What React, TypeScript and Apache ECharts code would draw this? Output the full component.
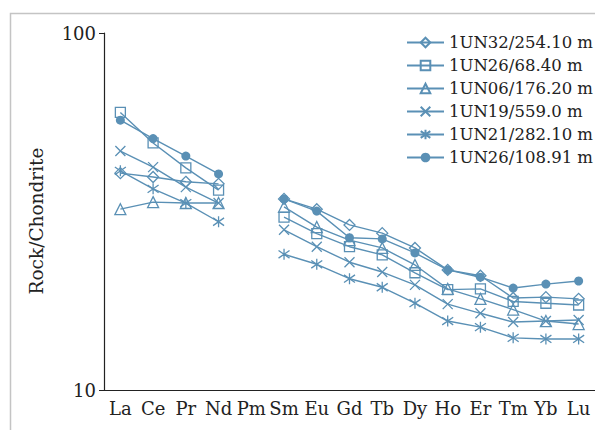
import React, { useEffect, useRef } from "react";
import * as echarts from "echarts";

const categories = ["La", "Ce", "Pr", "Nd", "Pm", "Sm", "Eu", "Gd", "Tb", "Dy", "Ho", "Er", "Tm", "Yb", "Lu"];
const seriesNames = [
  "1UN32/254.10 m",
  "1UN26/68.40 m",
  "1UN06/176.20 m",
  "1UN19/559.0 m",
  "1UN21/282.10 m",
  "1UN26/108.91 m",
];
const un32_254 = [40.5, 39.5, 38.3, 37.8, null, 34.3, 32.1, 29.0, 27.5, 25.0, 21.7, 20.9, 18.1, 18.2, 18.0];
const un26_68 = [59.9, 49.2, 41.9, 36.3, null, 30.5, 27.4, 25.2, 23.9, 21.3, 19.1, 19.2, 17.7, 17.5, 17.3];
const un06_176 = [32.1, 33.6, 33.4, 33.4, null, 32.6, 28.6, 26.3, 25.0, 22.4, 19.2, 18.0, 16.8, 15.6, 15.3];
const un19_559 = [46.7, 42.1, 37.0, 33.4, null, 28.1, 25.2, 22.8, 21.4, 19.7, 17.4, 16.4, 15.5, 15.6, 15.7];
const un21_282 = [41.1, 36.6, 33.4, 29.6, null, 24.0, 22.5, 20.5, 19.4, 17.5, 15.6, 15.0, 14.0, 13.9, 13.9];
const un26_108 = [57.0, 50.6, 45.2, 40.3, null, 34.3, 31.7, 26.7, 26.5, 24.2, 21.7, 20.7, 19.3, 19.8, 20.2];
const yTicks = [10, 100];

const C = "#5a90b5";
const FONT = "DejaVu Serif";
const X_SYMBOL = "path://M0,0L10,10M10,0L0,10";
const AST_SYMBOL = "path://M5,0L5,10M0.8,1.5L9.2,8.5M0.8,8.5L9.2,1.5";

export default function App() {
  const ref = useRef<HTMLDivElement>(null);
  useEffect(() => {
    if (!ref.current) return;
    const chart = echarts.init(ref.current, null, { renderer: "svg" });
    const dataSets = [un32_254, un26_68, un06_176, un19_559, un21_282, un26_108];
    const symbols = ["diamond", "rect", "triangle", X_SYMBOL, AST_SYMBOL, "circle"];
    const sizes = [11, 10, 11, 10, 11, 9];
    const series = dataSets.map((d, i) => {
      const filled = i === 5;
      const lineOnly = i === 3 || i === 4;
      return {
        name: seriesNames[i],
        type: "line",
        data: d,
        connectNulls: false,
        symbol: symbols[i],
        symbolSize: sizes[i],
        showAllSymbol: true,
        lineStyle: { color: C, width: 1.4 },
        itemStyle: filled
          ? { color: C, borderColor: C, borderWidth: 0 }
          : { color: lineOnly ? "none" : "rgba(255,255,255,0)", borderColor: C, borderWidth: 1.3 },
        z: 2 + i,
      };
    });
    chart.setOption({
      animation: false,
      backgroundColor: "#ffffff",
      textStyle: { fontFamily: FONT },
      grid: { left: 104, top: 33, width: 495, height: 357, containLabel: false },
      legend: {
        orient: "vertical",
        left: 401,
        top: 29,
        itemWidth: 37,
        itemHeight: 12,
        itemGap: 6,
        data: seriesNames,
        textStyle: { fontFamily: FONT, fontSize: 16.5, color: "#222" },
      },
      xAxis: {
        type: "category",
        data: categories,
        boundaryGap: true,
        axisLine: { lineStyle: { color: "#222", width: 1.2 } },
        axisTick: { alignWithLabel: true, length: 5, lineStyle: { color: "#222" } },
        axisLabel: { fontFamily: FONT, fontSize: 18, color: "#222", margin: 9, interval: 0 },
        splitLine: { show: false },
      },
      yAxis: {
        type: "log",
        logBase: 10,
        min: yTicks[0],
        max: yTicks[1],
        axisLine: { show: true, lineStyle: { color: "#222", width: 1.2 } },
        axisTick: { show: true, length: 5, lineStyle: { color: "#222" } },
        minorTick: { show: false },
        axisLabel: { fontFamily: FONT, fontSize: 18, color: "#222", margin: 8 },
        splitLine: { show: false },
      },
      graphic: [
        {
          type: "rect",
          shape: { x: 10.5, y: 13.5, width: 800, height: 800 },
          style: { fill: "none", stroke: "#c4c4c4", lineWidth: 1.5 },
          silent: true,
          z: -10,
        },
        {
          type: "text",
          x: 36,
          y: 221,
          rotation: Math.PI / 2,
          style: {
            text: "Rock/Chondrite",
            fontFamily: FONT,
            fontSize: 18.5,
            fill: "#222",
            textAlign: "center",
            textVerticalAlign: "middle",
          },
        },
      ],
      series,
    });
    return () => chart.dispose();
  }, []);
  return <div ref={ref} style={{ width: 595, height: 430, position: "absolute", left: 0, top: 0 }} />;
}
